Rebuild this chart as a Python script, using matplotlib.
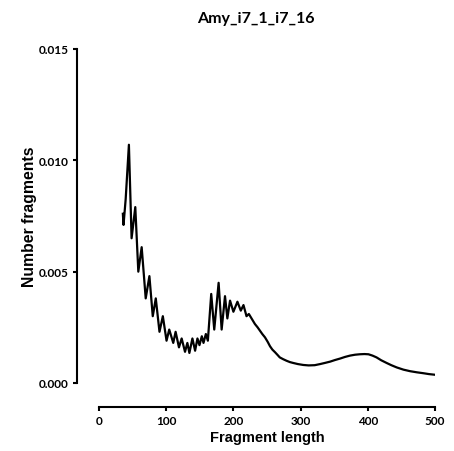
import matplotlib
matplotlib.use("Agg")
import matplotlib.pyplot as plt

# ── data ──────────────────────────────────────────────────────────────────────
TITLE = "Amy_i7_1_i7_16"

frag_len = [
    35.5, 36.5, 39.7, 44.5, 48.5, 54, 58.5, 63.5, 69.5, 75, 80, 84.5, 90, 95,
    100.5, 104.5, 110.5, 114, 119, 123, 128, 131.5, 134.5, 139, 143, 146.5,
    149.5, 153, 155.5, 159, 162, 167, 171.5, 178, 182.5, 187.5, 191, 195, 200,
    206, 211, 215, 219.5, 223, 227, 232, 236, 239.5, 243, 247, 251, 254.5, 258,
    262, 266, 269, 274, 279, 284, 289, 296, 304, 312, 321, 329, 336, 344, 351,
    359, 366, 373.5, 381, 388, 395, 401, 407, 413, 420, 428, 435, 443, 453,
    463, 473, 482.5, 491, 500,
]
n_frag = [
    0.0076, 0.0071, 0.00826, 0.0107, 0.0065, 0.0079, 0.0050, 0.0061, 0.0038,
    0.0048, 0.0030, 0.0038, 0.0023, 0.0030, 0.0019, 0.0024, 0.0018, 0.0023,
    0.0016, 0.0020, 0.0014, 0.0018, 0.00135, 0.0020, 0.00145, 0.0020, 0.0017,
    0.0021, 0.0018, 0.0022, 0.0019, 0.0040, 0.0024, 0.0045, 0.0024, 0.0039,
    0.0029, 0.0037, 0.0032, 0.00365, 0.00325, 0.0035, 0.0030, 0.0031, 0.0029,
    0.00265, 0.0025, 0.00235, 0.0022, 0.00205, 0.00185, 0.00165, 0.0015,
    0.00138, 0.00125, 0.00115, 0.00107, 0.0010, 0.00094, 0.0009, 0.00085,
    0.00081, 0.00079, 0.0008, 0.00085, 0.0009, 0.00096, 0.00103, 0.0011,
    0.00117, 0.00123, 0.00127, 0.00129, 0.0013, 0.00129, 0.00123, 0.00115,
    0.00102, 0.0009, 0.0008, 0.0007, 0.0006, 0.00053, 0.00048, 0.00044,
    0.0004, 0.00037,
]

x_ticks = [0, 100, 200, 300, 400, 500]
y_ticks = [0.000, 0.005, 0.010, 0.015]

TICK_FONT = "Lato"
LABEL_FONT = "Liberation Sans"
PX = 0.72  # points per pixel at dpi 100

# ── figure ────────────────────────────────────────────────────────────────────
fig = plt.figure(figsize=(4.54, 4.52), dpi=100)
ax = fig.add_axes([99 / 454, 68 / 452, 336 / 454, 334 / 452])

ax.plot(frag_len, n_frag, color="black", linewidth=1.6, solid_joinstyle="round")

ax.set_xlim(0, 500)
ax.set_ylim(0, 0.015)
ax.set_xticks(x_ticks)
ax.set_yticks(y_ticks)
ax.set_xticklabels([str(t) for t in x_ticks])
ax.set_yticklabels([f"{t:.3f}" for t in y_ticks])

# prism-style detached axes
for side in ("top", "right"):
    ax.spines[side].set_visible(False)
ax.spines["left"].set_position(("outward", 22 * PX))
ax.spines["bottom"].set_position(("outward", 24 * PX))
for side in ("left", "bottom"):
    ax.spines[side].set_linewidth(1.5)
ax.tick_params(direction="out", length=4 * PX, width=1.5, pad=3)
for lbl in ax.get_xticklabels() + ax.get_yticklabels():
    lbl.set_fontfamily(TICK_FONT)
    lbl.set_fontweight("bold")
    lbl.set_fontsize(8.5)

ax.set_xlabel("Fragment length", fontfamily=LABEL_FONT, fontweight="bold",
              fontsize=10.5, labelpad=3)
ax.set_ylabel("Number fragments", fontfamily=LABEL_FONT, fontweight="bold",
              fontsize=11.3, labelpad=1.5)

fig.text(256 / 454, 1 - 19 / 452, TITLE, ha="center", va="center",
         fontfamily=TICK_FONT, fontweight="bold", fontsize=11.5)

fig.savefig("out.png", dpi=100, facecolor="white")
